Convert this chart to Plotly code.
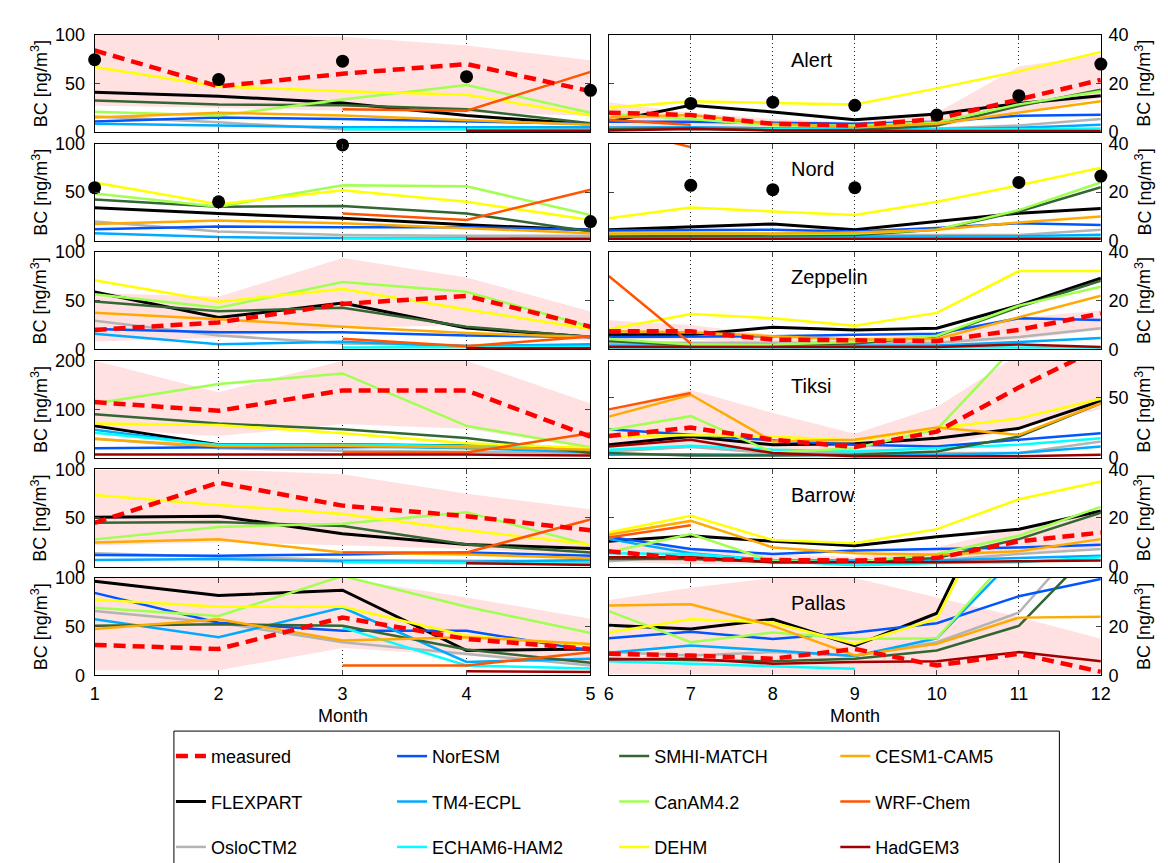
import plotly.graph_objects as go

# ---------------- data ----------------
MONTHS = [1, 2, 3, 4, 5, 6, 7, 8, 9, 10, 11, 12]
STATIONS = ["Alert", "Nord", "Zeppelin", "Tiksi", "Barrow", "Pallas"]
MODELS = ["FLEXPART", "OsloCTM2", "NorESM", "TM4-ECPL", "ECHAM6-HAM2", "SMHI-MATCH",
          "CanAM4.2", "DEHM", "CESM1-CAM5", "WRF-Chem", "HadGEM3"]
LEFT_TICKS = [0, 50, 100]
RIGHT_TICKS = [0, 20, 40]
TIKSI_LEFT_TICKS = [0, 100, 200]
TIKSI_RIGHT_TICKS = [0, 50]
N = None

# Alert
alert_measured = [84, 47, 60, 70, 42, 8, 7, 3.4, 2.7, 5.4, 13.4, 21.5]
alert_band_lo = [27, 25, 22, 20, 17, 2, 1, 0.5, 0.5, 2, 8, 14]
alert_band_hi = [100, 100, 98, 89, 74, 12.3, 8, 5.4, 4, 8, 27, 32]
alert_obs = [74.5, 54, 73, 57, 43, N, 11.8, 12.3, 11, 7, 15, 28]
alert_obs_err = [0, 0, 0, 0, 0, 0, 1.8, 1.8, 1.8, 0, 0, 0]
alert_FLEXPART = [41, 37, 30, 17, 8, 4.3, 11, 8.3, 5.1, 7.4, 11.8, 15]
alert_OsloCTM2 = [16, 10, 3, 3, 4, 2, 2, 1.5, 1.5, 1.5, 2.7, 5.4]
alert_NorESM = [11, 15, 13.5, 11, 8.5, 4.3, 4.3, 3.8, 3.4, 4.3, 6.7, 7.1]
alert_TM4 = [8.5, 6.7, 5, 5, 5, 1.8, 2, 1.5, 1.2, 1.2, 1.8, 3]
alert_ECHAM6 = [N, N, 3, 3, 2, 1.5, 1.5, 1.2, 1, 1, 1.2, 1.5]
alert_SMHI = [32.5, 28.5, 27.5, 23.5, 9, 1.3, 1.6, 0.8, 0.8, 2.7, 10.7, 17.4]
alert_CanAM = [21, 17, 33.5, 48.5, 20, 7.4, 5.4, 2.7, 2.7, 4, 11.4, 16.8]
alert_DEHM = [67, 47, 42, 38.5, 17, 10, 12.7, 12, 11.4, 18, 25, 33]
alert_CESM = [15, 20, 17, 12, 7.5, 6, 7, 3.4, 2, 3.4, 8, 12.7]
alert_WRF = [N, N, 23.5, 22, 62, 5, 3, N, N, N, N, N]
alert_HadGEM = [N, N, N, 1.5, 1.5, 0.7, 1.3, 0.7, 0.5, 0.5, 0.5, 0.5]

# Nord
nord_measured = [N] * 12
nord_band_lo = [N] * 12
nord_band_hi = [N] * 12
nord_obs = [54.6, 40, 98.6, N, 19.7, N, 22.8, 21, 21.8, N, 24, 26.6]
nord_obs_err = [0, 1.5, 0, 0, 0, 0, 0, 0, 0, 0, 1.5, 0]
nord_FLEXPART = [34, 28, 23, 16.3, 11, 4.5, 5.8, 6.9, 4.5, 7.9, 11.3, 13.3]
nord_OsloCTM2 = [19.7, 9.5, 6, 5, 5, 2.4, 2.4, 2.4, 2.4, 2.4, 2.4, 4.5]
nord_NorESM = [11.9, 14.6, 13.9, 13.9, 11.2, 4.2, 4.2, 4.5, 3.8, 5.2, 7.2, 6.5]
nord_TM4 = [7.8, 3.7, 2.7, 2.4, 2.4, 1.5, 1.5, 1.5, 1.5, 1.5, 1.8, 2.5]
nord_ECHAM6 = [N, N, 2.4, 2.4, 2, 1, 1, 1, 1, 1, 1, 1.2]
nord_SMHI = [42.4, 35, 35.6, 28, 9.5, 1.8, 2, 2, 2.4, 4.5, 12, 22]
nord_CanAM = [48.5, 35, 57, 56, 26.4, 2.8, 3, 2.8, 3, 4.5, 12.6, 24]
nord_DEHM = [60, 37.6, 51.9, 40, 21.4, 9.2, 13.7, 12, 10.6, 16, 22.8, 30]
nord_CESM = [17.3, 20.7, 18, 12.9, 7.8, 3, 3, 3, 3.4, 4.5, 7.5, 10]
nord_WRF = [N, N, 28, 21.4, 52.5, 47, 38.5, N, N, N, N, N]
nord_HadGEM = [N, N, N, 1.7, 1.7, 0.8, 0.8, 0.8, 0.8, 0.8, 0.8, 0.8]

# Zeppelin
zeppelin_measured = [20, 27.7, 46.7, 55, 23.3, 7.4, 7.4, 4, 3.8, 3.4, 8, 14.8]
zeppelin_band_lo = [8, 12, 22, 25, 8, 4, 4, 2, 2, 2, 4, 8]
zeppelin_band_hi = [58, 54, 94, 74, 39, 12, 10, 6, 5, 6, 13, 16]
zeppelin_obs = [N] * 12
zeppelin_obs_err = [0] * 12
zeppelin_FLEXPART = [59, 32.7, 47.7, 22, 12.7, 6, 6, 9.1, 8, 8.7, 18.1, 29.3]
zeppelin_OsloCTM2 = [29.3, 14.3, 6, 4, 4, 2.7, 2.7, 2.7, 2.7, 2.7, 5.1, 8.7]
zeppelin_NorESM = [21, 17.7, 17.7, 14.3, 12.7, 5.1, 5.1, 5.4, 6, 6.4, 12.8, 12.1]
zeppelin_TM4 = [16, 5.3, 7.7, 3.3, 5.3, 1.6, 1.6, 1.6, 1.6, 1.6, 3, 4.7]
zeppelin_ECHAM6 = [N, N, 2, 2, 2.5, 0.8, 0.8, 0.8, 0.8, 0.8, 0.8, 0.8]
zeppelin_SMHI = [49.3, 39.3, 42.7, 23.3, 12.7, 3.4, 1.6, 2, 2.4, 5.4, 17.4, 28.2]
zeppelin_CanAM = [56.7, 42.7, 69.3, 59.3, 23.3, 4.3, 2, 2, 3, 5.6, 18, 25.8]
zeppelin_DEHM = [71, 49, 62, 41, 21, 8.3, 14.5, 12.8, 9.7, 15, 32.2, 32.2]
zeppelin_CESM = [37.7, 31, 23.3, 16.7, 12.7, 7.4, 7, 5.4, 4, 4.3, 13.2, 22.1]
zeppelin_WRF = [N, N, 11, 3.3, 13.3, 30.2, 2.4, N, N, N, N, N]
zeppelin_HadGEM = [N, N, N, 1, 1, 1, 1, 1, 1, 1, 2, 1]

# Tiksi
tiksi_measured = [115, 97, 139, 139, 44, 18, 25, 15, 9, 21.7, 58, 91]
tiksi_band_lo = [60, 45, 70, 60, 20, 8, 10, 5, 3, 8, 25, 40]
tiksi_band_hi = [200, 135, 200, 200, 112, 40, 56, 37, 20, 42, 85, 85]
tiksi_obs = [N] * 12
tiksi_obs_err = [0] * 12
tiksi_FLEXPART = [66, 27, 27, 25, 17, 10.8, 17.6, 10.8, 11.7, 16.3, 24.4, 47]
tiksi_OsloCTM2 = [40, 20, 15, 12, 10, 5.4, 9, 4, 4, 4, 4, 13.6]
tiksi_NorESM = [20, 22, 22, 24, 15, 23.6, 19, 14.4, 10.8, 9.5, 15, 20.3]
tiksi_TM4 = [58, 25, 24, 20, 12, 2.7, 3, 2.5, 2.5, 2.5, 4, 9.5]
tiksi_ECHAM6 = [52, 27, 27, 25, 18, 6.8, 10, 6.8, 5.4, 8, 10.8, 16.3]
tiksi_SMHI = [90, 71, 59, 41, 10, 4, 2, 2, 2.7, 5.4, 17.6, 45]
tiksi_CanAM = [112, 152, 174, 66, 22, 23, 34.4, 4.6, 8, 23.6, 95, 100]
tiksi_DEHM = [71, 68, 51, 30.5, 20, 17.6, 19, 17.6, 14.4, 24.4, 32.5, 48.8]
tiksi_CESM = [39, 24, 25, 22, 17, 34, 52, 13.6, 15, 25, 19, 45]
tiksi_WRF = [N, N, 11.5, 11.5, 51, 40, 53.4, N, N, N, N, N]
tiksi_HadGEM = [7, 7, 7, 7, 5, 9.5, 15, 4, 1.4, 1.4, 1.4, 2.7]

# Barrow
barrow_measured = [45, 86.4, 62.7, 51.9, 37.3, 6.3, 3.1, 2.7, 2.5, 3.5, 10.4, 14]
barrow_band_lo = [22, 25, 22, 18, 12, 2, 1, 1, 1, 1, 5, 8]
barrow_band_hi = [100, 100, 95, 75, 59, 10, 8, 5, 4, 8, 16, 22]
barrow_obs = [N] * 12
barrow_obs_err = [0] * 12
barrow_FLEXPART = [50.8, 51.9, 33.9, 22.7, 18.6, 10.4, 12.7, 10.4, 8.6, 12.3, 15.4, 22.9]
barrow_OsloCTM2 = [13.6, 10, 6.8, 6, 5, 2.2, 4.5, 2.5, 2.5, 2.5, 5.2, 7.2]
barrow_NorESM = [11.9, 11.2, 12.5, 14.6, 11.2, 12.3, 7.2, 5.2, 6.6, 7.2, 7.9, 9]
barrow_TM4 = [6.8, 7.8, 5.5, 5, 6.8, 11.3, 5.5, 2.5, 2.5, 2.5, 3.5, 4.5]
barrow_ECHAM6 = [N, N, 4.4, 3.4, 3, 5.5, 5.2, 2.5, 0.4, 1.5, 1.8, 3.8]
barrow_SMHI = [45, 45.8, 41.7, 22.7, 14.6, 3.1, 3.1, 1.8, 1.8, 3.5, 11.3, 22.2]
barrow_CanAM = [28, 40.7, 44, 56, 22, 5.9, 13.4, 2.2, 1.8, 5.2, 12.7, 24.6]
barrow_DEHM = [73.6, 63.4, 54.2, 37.3, 22.7, 14, 20.9, 10.9, 9.6, 15.4, 27.7, 35]
barrow_CESM = [24.7, 28, 14.6, 12.5, 8.5, 13.1, 18.8, 7.9, 5.5, 4.9, 6.3, 11.3]
barrow_WRF = [N, N, 14.6, 14.6, 48.5, 12, 17, N, N, N, N, N]
barrow_HadGEM = [N, N, N, 3.4, 1.7, 3.8, 3.8, 1.8, 1.8, 1.8, 2.2, 2.5]

# Pallas
pallas_measured = [31.2, 27, 59.3, 37.3, 27, 8.8, 8.1, 6.8, 10.8, 4, 8.8, 1.4]
pallas_band_lo = [5, 5, 28, 20, 10, 0.5, 0.5, 0.5, 0.5, 0.5, 0.5, 0.5]
pallas_band_hi = [100, 100, 100, 80, 58, 31, 36, 40, 40, 32, 24, 15]
pallas_obs = [N] * 12
pallas_obs_err = [0] * 12
pallas_FLEXPART = [96.6, 82, 87.5, 25.4, 27, 20.6, 19, 23, 12.2, 25.5, 95, 100]
pallas_OsloCTM2 = [66, 54, 34, 22, 10, 9.5, 8.1, 9.5, 8, 13.6, 25.8, 64]
pallas_NorESM = [84.7, 54, 45.8, 45.8, 25.4, 15.2, 17.9, 14.9, 17.6, 21.4, 32.5, 39.6]
pallas_TM4 = [57.6, 39, 69.5, 13.6, 17, 9.2, 12.2, 10.2, 7.9, 15.2, 50, 60]
pallas_ECHAM6 = [N, N, 49, 10, 6.8, 5.7, 4.7, 4, 2.7, N, N, N]
pallas_SMHI = [50.8, 52.5, 50.8, 26.4, 12.9, 6.8, 6.1, 5.7, 6.8, 10.2, 20.3, 55]
pallas_CanAM = [69.5, 61, 102, 70.5, 43.4, 26.4, 13.6, 17.6, 14.9, 15.2, 53, 60]
pallas_DEHM = [78, 70.5, 70.5, 40.7, 30.5, 17.6, 23, 21.7, 12.9, 23.3, 90, 95]
pallas_CESM = [47.5, 57.6, 35.6, 39, 32.2, 28.7, 29.2, 20.3, 8.1, 12.9, 23.7, 24.1]
pallas_WRF = [N, N, 10, 10, 23.7, N, N, N, N, N, N, N]
pallas_HadGEM = [N, N, N, 4, 3.4, 6.5, 6.8, 4.7, 5.4, 5.7, 9.5, 5.7]

# ---------------- assemble ----------------
def station_table(p):
    g = globals()
    return {
        "measured": g[p + "_measured"], "band_lo": g[p + "_band_lo"], "band_hi": g[p + "_band_hi"],
        "obs": g[p + "_obs"], "obs_err": g[p + "_obs_err"],
        "FLEXPART": g[p + "_FLEXPART"], "OsloCTM2": g[p + "_OsloCTM2"], "NorESM": g[p + "_NorESM"],
        "TM4-ECPL": g[p + "_TM4"], "ECHAM6-HAM2": g[p + "_ECHAM6"], "SMHI-MATCH": g[p + "_SMHI"],
        "CanAM4.2": g[p + "_CanAM"], "DEHM": g[p + "_DEHM"], "CESM1-CAM5": g[p + "_CESM"],
        "WRF-Chem": g[p + "_WRF"], "HadGEM3": g[p + "_HadGEM"],
    }

DATA = {s: station_table(s.lower()) for s in STATIONS}

COLORS = {
    "measured": "#FF0000", "FLEXPART": "#000000", "OsloCTM2": "#B4B4B4", "NorESM": "#0055FF",
    "TM4-ECPL": "#00AAFF", "ECHAM6-HAM2": "#00FFFF", "SMHI-MATCH": "#336633",
    "CanAM4.2": "#A0FF50", "DEHM": "#FFFF00", "CESM1-CAM5": "#FFAA00",
    "WRF-Chem": "#FF5500", "HadGEM3": "#A00000",
}
LEGEND_OF = {
    "measured": "legend", "FLEXPART": "legend", "OsloCTM2": "legend",
    "NorESM": "legend2", "TM4-ECPL": "legend2", "ECHAM6-HAM2": "legend2",
    "SMHI-MATCH": "legend3", "CanAM4.2": "legend3", "DEHM": "legend3",
    "CESM1-CAM5": "legend4", "WRF-Chem": "legend4", "HadGEM3": "legend4",
}
RANK = {"measured": 1, "FLEXPART": 2, "OsloCTM2": 3, "NorESM": 1, "TM4-ECPL": 2, "ECHAM6-HAM2": 3,
        "SMHI-MATCH": 1, "CanAM4.2": 2, "DEHM": 3, "CESM1-CAM5": 1, "WRF-Chem": 2, "HadGEM3": 3}

# ---------------- layout geometry (px) ----------------
W, H = 1168, 863
COL_X = [(82.7, 585.0), (603.5, 1102.0)]
ROW_TOP0, ROW_STEP, ROW_H = 17.3, 111.2, 99.5
FONT = "Liberation Sans, Arial, sans-serif"
FS = 18

def xdom(j):
    return [COL_X[j][0] / W, COL_X[j][1] / W]

def ydom(i):
    top = ROW_TOP0 + i * ROW_STEP
    return [1 - (top + ROW_H) / H, 1 - top / H]

fig = go.Figure()
layout = {}
annotations = []

for i, st in enumerate(STATIONS):
    d = DATA[st]
    for j in range(2):
        k = 2 * i + j + 1
        xs = MONTHS[:5] if j == 0 else MONTHS[5:]
        sl = slice(0, 5) if j == 0 else slice(5, 12)
        xa, ya = ("x" if k == 1 else f"x{k}"), ("y" if k == 1 else f"y{k}")
        first = (k == 1)

        lo, hi = d["band_lo"][sl], d["band_hi"][sl]
        if any(v is not None for v in hi):
            fig.add_trace(go.Scatter(
                x=xs + xs[::-1], y=hi + lo[::-1], fill="toself", fillcolor="#FFE1E1",
                line=dict(width=0), mode="lines", hoverinfo="skip", showlegend=False,
                xaxis=xa, yaxis=ya))

        for m in MODELS:
            vals = d[m][sl]
            if all(v is None for v in vals):
                continue
            fig.add_trace(go.Scatter(
                x=xs, y=vals, mode="lines", name=m,
                line=dict(color=COLORS[m], width=3 if m == "FLEXPART" else 2.5),
                showlegend=first, legend=LEGEND_OF[m], legendgroup=m, legendrank=RANK[m],
                xaxis=xa, yaxis=ya))

        meas = d["measured"][sl]
        if any(v is not None for v in meas):
            fig.add_trace(go.Scatter(
                x=xs, y=meas, mode="lines", name="measured",
                line=dict(color=COLORS["measured"], width=4.5, dash="12px,7px"),
                showlegend=first, legend="legend", legendgroup="measured", legendrank=1,
                xaxis=xa, yaxis=ya))

        obs = d["obs"][sl]
        if any(v is not None for v in obs):
            fig.add_trace(go.Scatter(
                x=xs, y=obs, mode="markers", marker=dict(color="black", size=13),
                error_y=dict(type="data", array=d["obs_err"][sl], color="black",
                             thickness=1.5, width=3),
                cliponaxis=False, showlegend=False, xaxis=xa, yaxis=ya))

        if st == "Tiksi":
            yr, tv = ([0, 200], TIKSI_LEFT_TICKS) if j == 0 else ([0, 80], TIKSI_RIGHT_TICKS)
        else:
            yr, tv = ([0, 100], LEFT_TICKS) if j == 0 else ([0, 40], RIGHT_TICKS)

        xkey = "xaxis" if k == 1 else f"xaxis{k}"
        ykey = "yaxis" if k == 1 else f"yaxis{k}"
        layout[xkey] = dict(
            domain=xdom(j), anchor=ya, range=[xs[0], xs[-1]], tickvals=xs,
            showticklabels=(i == len(STATIONS) - 1), ticks="inside", ticklen=5,
            showline=True, linecolor="black", linewidth=1, mirror="ticks",
            showgrid=True, gridcolor="#222222", griddash="1px,3px", gridwidth=1,
            zeroline=False, tickfont=dict(size=FS, color="black"), ticklabelstandoff=2)
        layout[ykey] = dict(
            domain=ydom(i), anchor=xa, range=yr, tickvals=tv,
            side="left" if j == 0 else "right", ticks="inside", ticklen=5,
            showline=True, linecolor="black", linewidth=1, mirror="ticks",
            showgrid=False, zeroline=False, tickfont=dict(size=FS, color="black"),
            ticklabelstandoff=5 if j == 0 else 3)

        # y titles
        yc = 1 - (ROW_TOP0 + i * ROW_STEP + ROW_H / 2) / H
        annotations.append(dict(
            text="BC [ng/m<sup>3</sup>]", textangle=-90, xref="paper", yref="paper",
            x=(27 if j == 0 else 1145) / W, y=yc, xanchor="center", yanchor="middle",
            showarrow=False, font=dict(size=FS, color="black")))
        if j == 1:
            annotations.append(dict(
                text=st, xref=xa, yref=f"{ya} domain", x=8.2, y=0.74,
                xanchor="left", yanchor="middle", showarrow=False,
                font=dict(size=20, color="black")))

for j in range(2):
    annotations.append(dict(
        text="Month", xref="paper", yref="paper",
        x=(COL_X[j][0] + COL_X[j][1]) / 2 / W, y=1 - 715 / H,
        xanchor="center", yanchor="middle", showarrow=False,
        font=dict(size=FS, color="black")))

LEG_X = [160, 384, 609, 833]
leg_common = dict(orientation="v", yanchor="top", xanchor="left", y=1 - 737 / H,
                  bgcolor="rgba(0,0,0,0)", borderwidth=0, tracegroupgap=19,
                  font=dict(size=FS, color="black", family=FONT))
for n, key in enumerate(["legend", "legend2", "legend3", "legend4"]):
    layout[key] = dict(leg_common, x=LEG_X[n] / W)

fig.update_layout(
    width=W, height=H, margin=dict(l=0, r=0, t=0, b=0),
    paper_bgcolor="white", plot_bgcolor="white",
    font=dict(family=FONT, size=FS, color="black"),
    annotations=annotations,
    shapes=[dict(type="rect", xref="paper", yref="paper",
                 x0=163 / W, x1=1060 / W, y0=-0.05, y1=1 - 730 / H,
                 line=dict(color="black", width=1), fillcolor="rgba(0,0,0,0)")],
    **layout,
)

fig.write_html("out.html")
